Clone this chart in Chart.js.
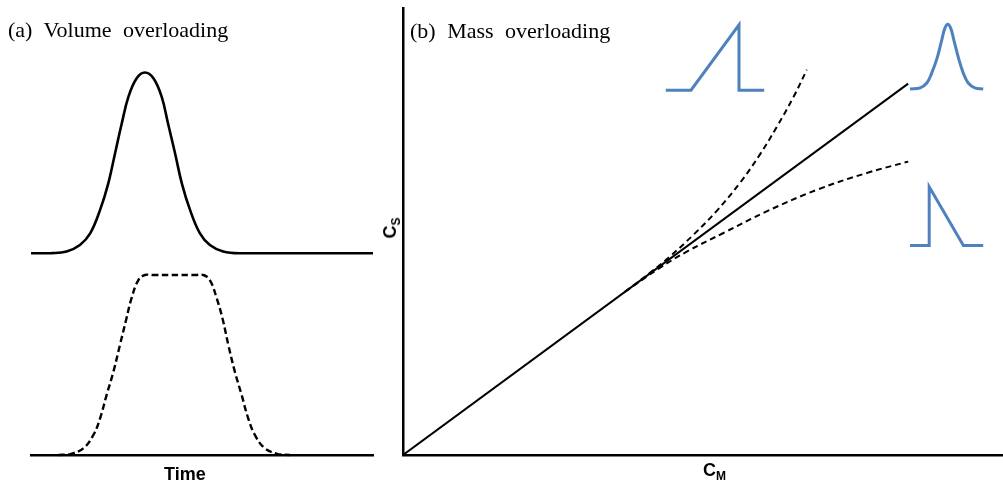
<!DOCTYPE html>
<html>
<head>
<meta charset="utf-8">
<script src="https://cdn.jsdelivr.net/npm/chart.js@4.4.1/dist/chart.umd.min.js"></script>
<style>
html,body{margin:0;padding:0;background:#fff;}
#wrap{position:relative;width:1003px;height:488px;overflow:hidden;background:#fff;}
canvas{position:absolute;left:0;top:0;}
.t{position:absolute;white-space:nowrap;color:#000;}
.serif{font-family:"Liberation Serif","Times New Roman",serif;font-size:22px;line-height:22px;word-spacing:6px;}
.bold{font-family:"Liberation Sans",Arial,sans-serif;font-weight:bold;font-size:18px;line-height:18px;}
.bold sub{font-size:12px;line-height:12px;vertical-align:baseline;position:relative;top:4px;}
</style>
</head>
<body>
<div id="wrap">
  <canvas id="cA1" width="1003" height="488"></canvas>
  <canvas id="cA2" width="1003" height="488"></canvas>
  <canvas id="cB" width="1003" height="488"></canvas>
  <div class="t serif" style="left:8px;top:19px;">(a) Volume overloading</div>
  <div class="t serif" style="left:410px;top:20px;">(b) Mass overloading</div>
  <div class="t bold" style="left:164px;top:465px;">Time</div>
  <div class="t bold" style="left:703px;top:461px;">C<sub>M</sub></div>
  <div class="t bold" style="left:390px;top:228px;transform:translate(-50%,-50%) rotate(-90deg);">C<sub>S</sub></div>
</div>
<script>
// ---- Panel (a): volume overloading ----
const gaussTime   = [0, 0.6, 1.04, 1.43, 1.73, 2.02, 2.26, 2.46, 2.65, 2.85, 3.09, 3.33, 3.58, 3.82, 4.01, 4.21, 4.41, 4.65, 4.94, 5.23, 5.62, 6.11, 10];
const gaussSignal = [0, 0.001, 0.01, 0.046, 0.11, 0.24, 0.387, 0.555, 0.715, 0.866, 0.968, 1.0, 0.968, 0.866, 0.715, 0.555, 0.387, 0.24, 0.11, 0.046, 0.01, 0, 0];

const plateauTime   = [0.8, 1.14, 1.53, 1.82, 2.02, 2.21, 2.41, 2.60, 2.78, 2.94, 3.14, 3.33, 3.55, 4.8, 5.04, 5.23, 5.43, 5.61, 5.77, 5.96, 6.16, 6.35, 6.55, 6.84, 7.23, 7.57];
const plateauSignal = [0, 0.005, 0.037, 0.11, 0.204, 0.333, 0.463, 0.611, 0.75, 0.871, 0.972, 1.0, 1.0, 1.0, 1.0, 0.972, 0.871, 0.75, 0.611, 0.463, 0.333, 0.204, 0.11, 0.037, 0.005, 0];

// ---- Panel (b): mass overloading (isotherms C_S vs C_M) ----
const linearCM = [0, 8.42];
const linearCS = [0, 6.19];
const antiLangmuirCM = [3.7, 4.12, 4.45, 4.84, 5.23, 5.62, 5.95, 6.23, 6.51, 6.73];
const antiLangmuirCS = [2.72, 3.04, 3.31, 3.67, 4.07, 4.54, 5.01, 5.47, 5.97, 6.42];
const langmuirCM = [3.7, 4.06, 4.28, 4.73, 5.34, 6.06, 6.90, 7.73, 8.42];
const langmuirCS = [2.72, 2.97, 3.12, 3.39, 3.70, 4.06, 4.42, 4.70, 4.89];

// peak-shape icons
const frontingCM = [4.38, 4.80, 5.60, 5.60, 6.02];
const frontingCS = [6.08, 6.08, 7.17, 6.08, 6.08];
const symmetricCM = [8.45, 8.62, 8.73, 8.81, 8.90, 8.98, 9.03, 9.08, 9.13, 9.18, 9.26, 9.34, 9.42, 9.53, 9.67];
const symmetricCS = [6.10, 6.12, 6.20, 6.36, 6.61, 6.92, 7.11, 7.18, 7.11, 6.92, 6.61, 6.36, 6.20, 6.12, 6.10];
const tailingCM = [8.45, 8.77, 8.77, 9.34, 9.67];
const tailingCS = [3.49, 3.49, 4.47, 3.49, 3.49];

const zip = (xs, ys) => xs.map((x, i) => ({x: x, y: ys[i]}));
const BLUE = '#4f81bd';

function hiddenAxis(min, max) {
  return {type: 'linear', min: min, max: max, display: false};
}
function borderAxis(min, max) {
  return {
    type: 'linear', min: min, max: max, display: true,
    grid: {display: false, drawTicks: false},
    ticks: {display: false},
    border: {display: true, color: '#000', width: 2.5}
  };
}
const common = {
  responsive: false,
  animation: false,
  events: [],
  plugins: {legend: {display: false}, tooltip: {enabled: false}, title: {display: false}},
  elements: {point: {radius: 0}}
};

// Top: Gaussian peak
new Chart(document.getElementById('cA1'), {
  type: 'scatter',
  data: {datasets: [{
    data: zip(gaussTime, gaussSignal), showLine: true, borderColor: '#000', borderWidth: 2.6,
    tension: 0.4, pointRadius: 0, clip: false
  }]},
  options: Object.assign({}, common, {
    layout: {padding: {left: 31, right: 630, top: 54.4, bottom: 234.7}},
    scales: {x: hiddenAxis(0, 10), y: hiddenAxis(0, 1.1)}
  })
});

// Bottom: flat-topped (volume overloaded) peak
new Chart(document.getElementById('cA2'), {
  type: 'scatter',
  data: {datasets: [{
    data: zip(plateauTime, plateauSignal), showLine: true, borderColor: '#000', borderWidth: 2.4,
    borderDash: [6.5, 3.5], tension: 0.4, pointRadius: 0, clip: false
  }]},
  options: Object.assign({}, common, {
    layout: {padding: {left: 31, right: 630, top: 257, bottom: 33}},
    scales: {x: borderAxis(0, 10), y: hiddenAxis(0, 1.1)}
  })
});

// Panel (b)
new Chart(document.getElementById('cB'), {
  type: 'scatter',
  data: {datasets: [
    {data: zip(linearCM, linearCS), showLine: true, borderColor: '#000', borderWidth: 2, tension: 0},
    {data: zip(antiLangmuirCM, antiLangmuirCS), showLine: true, borderColor: '#000', borderWidth: 2,
     borderDash: [6, 4], tension: 0.4},
    {data: zip(langmuirCM, langmuirCS), showLine: true, borderColor: '#000', borderWidth: 2,
     borderDash: [6, 4], tension: 0.4},
    {data: zip(frontingCM, frontingCS), showLine: true, borderColor: BLUE, borderWidth: 3, tension: 0},
    {data: zip(symmetricCM, symmetricCS), showLine: true, borderColor: BLUE, borderWidth: 3, tension: 0.4},
    {data: zip(tailingCM, tailingCS), showLine: true, borderColor: BLUE, borderWidth: 3, tension: 0}
  ]},
  options: Object.assign({}, common, {
    layout: {padding: {left: 403, right: 0, top: 8, bottom: 33}},
    scales: {x: borderAxis(0, 10), y: borderAxis(0, 7.45)}
  })
});
</script>
</body>
</html>
